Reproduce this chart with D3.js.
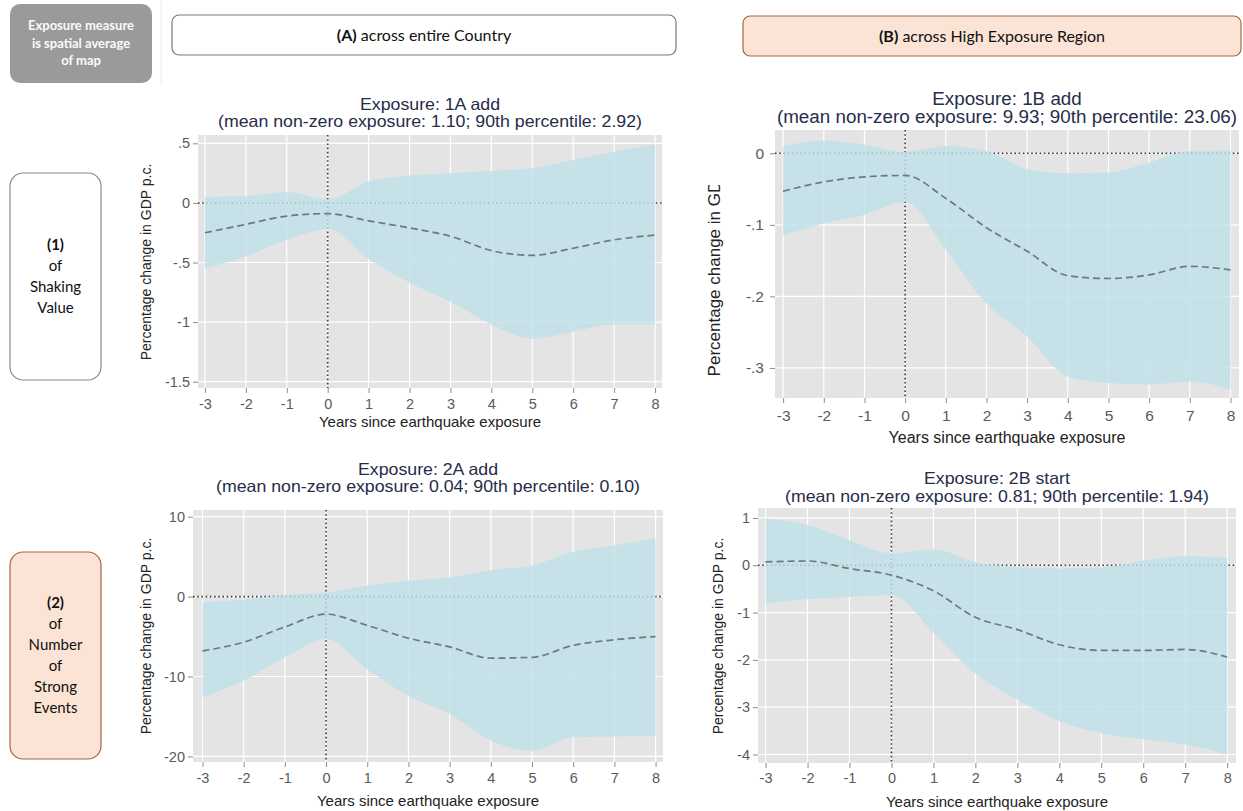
<!DOCTYPE html>
<html>
<head>
<meta charset="utf-8">
<script src="https://cdnjs.cloudflare.com/ajax/libs/d3/7.8.5/d3.min.js"></script>
<style>
  body { margin: 0; background: #fff; }
  svg { display: block; }
</style>
</head>
<body>
<svg id="chart" width="1243" height="811"></svg>
<script>
// event-study years
const years = [-3, -2, -1, 0, 1, 2, 3, 4, 5, 6, 7, 8];

// 1A: shaking value, whole country
const est1A = [-0.25, -0.18, -0.11, -0.09, -0.15, -0.21, -0.28, -0.40, -0.44, -0.38, -0.31, -0.27];
const hi1A = [0.05, 0.06, 0.09, 0.03, 0.18, 0.23, 0.25, 0.27, 0.29, 0.36, 0.43, 0.49];
const lo1A = [-0.55, -0.45, -0.31, -0.22, -0.47, -0.67, -0.83, -1.02, -1.14, -1.08, -1.02, -1.02];

// 1B: shaking value, high exposure region
const est1B = [-0.053, -0.040, -0.033, -0.031, -0.063, -0.104, -0.137, -0.171, -0.175, -0.170, -0.158, -0.163];
const hi1B = [0.010, 0.018, 0.012, 0.002, 0.010, 0.003, -0.022, -0.028, -0.027, -0.013, 0.003, 0.004];
const lo1B = [-0.115, -0.098, -0.086, -0.068, -0.135, -0.21, -0.256, -0.312, -0.321, -0.323, -0.319, -0.330];

// 2A: number of strong events, whole country
const est2A = [-6.8, -5.7, -3.8, -2.2, -3.6, -5.2, -6.3, -7.7, -7.6, -6.1, -5.4, -5.0];
const hi2A = [-0.7, -0.4, 0.2, 0.5, 1.4, 2.0, 2.4, 3.3, 3.9, 5.6, 6.4, 7.3];
const lo2A = [-12.6, -10.5, -7.6, -5.3, -9.1, -12.4, -14.7, -18.0, -19.3, -17.6, -17.5, -17.4];

// 2B: number of strong events, high exposure region
const est2B = [0.07, 0.09, -0.07, -0.21, -0.54, -1.10, -1.36, -1.68, -1.80, -1.80, -1.78, -1.94];
const hi2B = [0.99, 0.85, 0.53, 0.25, 0.34, 0.07, -0.04, -0.07, -0.05, 0.10, 0.19, 0.16];
const lo2B = [-0.81, -0.72, -0.67, -0.63, -1.42, -2.29, -2.84, -3.30, -3.55, -3.68, -3.79, -4.0];

// tick labels
const yTicks1A = [0.5, 0, -0.5, -1, -1.5];
const yLabels1A = [".5", "0", "-.5", "-1", "-1.5"];
const yTicks1B = [0, -0.1, -0.2, -0.3];
const yLabels1B = ["0", "-.1", "-.2", "-.3"];
const yTicks2A = [10, 0, -10, -20];
const yLabels2A = ["10", "0", "-10", "-20"];
const yTicks2B = [1, 0, -1, -2, -3, -4];
const yLabels2B = ["1", "0", "-1", "-2", "-3", "-4"];

const titles1A = ["Exposure: 1A add", "(mean non-zero exposure: 1.10; 90th percentile: 2.92)"];
const titles1B = ["Exposure: 1B add", "(mean non-zero exposure: 9.93; 90th percentile: 23.06)"];
const titles2A = ["Exposure: 2A add", "(mean non-zero exposure: 0.04; 90th percentile: 0.10)"];
const titles2B = ["Exposure: 2B start", "(mean non-zero exposure: 0.81; 90th percentile: 1.94)"];

const xTitle = "Years since earthquake exposure";
const yTitle = "Percentage change in GDP p.c.";

const svg = d3.select("#chart");
const chartFont = "'Liberation Sans', Arial, Helvetica, sans-serif";
const boxFont = "Lato, 'Open Sans', sans-serif";

// the original panels are a bit wider than their fonts, so widen horizontal text
const stretch = (sel, f) => sel.each(function () {
  const len = this.getComputedTextLength();
  d3.select(this).attr("textLength", len * f).attr("lengthAdjust", "spacingAndGlyphs");
});

// ---------- header and row boxes ----------
svg.append("line")
  .attr("x1", 161).attr("x2", 161).attr("y1", 0).attr("y2", 86)
  .attr("stroke", "#ececec");

svg.append("rect")
  .attr("x", 10).attr("y", 4).attr("width", 142).attr("height", 79)
  .attr("rx", 10).attr("fill", "#9a9a9a");

svg.append("text")
  .attr("font-family", boxFont).attr("font-size", "13px").attr("font-weight", "bold")
  .attr("fill", "#fafafa").attr("text-anchor", "middle")
  .selectAll("tspan")
  .data(["Exposure measure", "is spatial average", "of map"])
  .join("tspan")
  .attr("x", 81)
  .attr("y", (d, i) => 30 + i * 17.5)
  .text(d => d);

const headBox = (x, y, w, h, fill, stroke, bold, rest, cx) => {
  svg.append("rect")
    .attr("x", x).attr("y", y).attr("width", w).attr("height", h)
    .attr("rx", 7).attr("fill", fill).attr("stroke", stroke).attr("stroke-width", 1.2);
  const t = svg.append("text")
    .attr("x", cx).attr("y", y + h / 2 + 5.5)
    .attr("text-anchor", "middle")
    .attr("font-family", boxFont).attr("font-size", "16px").attr("fill", "#111");
  t.append("tspan").attr("font-weight", "bold").text(bold);
  t.append("tspan").text(rest);
};
headBox(172, 15, 504, 40, "#fff", "#7a7a7a", "(A)", " across entire Country", 424);
headBox(743, 16, 498, 40, "#fbe4d5", "#a8663f", "(B)", " across High Exposure Region", 992);

const rowBox = (y, h, fill, stroke, lines) => {
  svg.append("rect")
    .attr("x", 10).attr("y", y).attr("width", 91).attr("height", h)
    .attr("rx", 13).attr("fill", fill).attr("stroke", stroke).attr("stroke-width", 1.2);
  const lh = 21;
  const top = y + h / 2 - (lines.length - 1) * lh / 2 + 5;
  svg.append("text")
    .attr("font-family", boxFont).attr("font-size", "15px").attr("fill", "#111")
    .attr("text-anchor", "middle")
    .selectAll("tspan")
    .data(lines)
    .join("tspan")
    .attr("x", 55.5)
    .attr("y", (d, i) => top + i * lh)
    .attr("font-weight", (d, i) => i === 0 ? "bold" : null)
    .text(d => d);
};
rowBox(173, 207, "#fff", "#8a8a8a", ["(1)", "of", "Shaking", "Value"]);
rowBox(552, 207, "#fbe4d5", "#a8663f", ["(2)", "of", "Number", "of", "Strong", "Events"]);

// ---------- panels ----------
const panels = [
  { id: "p1A", est: est1A, lo: lo1A, hi: hi1A, yTicks: yTicks1A, yLabels: yLabels1A, titles: titles1A,
    left: 198, right: 662, top: 135, bottom: 388, xDom: [-3.17, 8.17], yDom: [-1.553, 0.57],
    titleY: [110, 126.5], titleSize: 16.5, tickFont: 14.5, xPad: 6, yPad: 3,
    xTitleY: 427, xTitleSize: 15, yTitleX: 146, yTitleY: 262, yTitleSize: 14 },
  { id: "p1B", est: est1B, lo: lo1B, hi: hi1B, yTicks: yTicks1B, yLabels: yLabels1B, titles: titles1B,
    left: 775, right: 1239, top: 130, bottom: 398, xDom: [-3.20, 8.21], yDom: [-0.342, 0.0325],
    titleY: [104.5, 123], titleSize: 17.5, tickFont: 15.5, xPad: 6.5, yPad: 6,
    xTitleY: 442.5, xTitleSize: 16, yTitleX: 714, yTitleY: 257, yTitleSize: 17, clipTop: 185 },
  { id: "p2A", est: est2A, lo: lo2A, hi: hi2A, yTicks: yTicks2A, yLabels: yLabels2A, titles: titles2A,
    left: 193, right: 663, top: 510, bottom: 762, xDom: [-3.23, 8.18], yDom: [-20.7, 10.84],
    titleY: [475, 491.5], titleSize: 16.5, tickFont: 14.5, xPad: 6, yPad: 3,
    xTitleY: 805.5, xTitleSize: 15, yTitleX: 146, yTitleY: 636, yTitleSize: 14 },
  { id: "p2B", est: est2B, lo: lo2B, hi: hi2B, yTicks: yTicks2B, yLabels: yLabels2B, titles: titles2B,
    left: 758, right: 1236, top: 508, bottom: 763, xDom: [-3.18, 8.21], yDom: [-4.18, 1.21],
    titleY: [484, 501.5], titleSize: 16.5, tickFont: 14.5, xPad: 5, yPad: 3,
    xTitleY: 807, xTitleSize: 15, yTitleX: 718, yTitleY: 636, yTitleSize: 14 }
];

panels.forEach(p => {
  const x = d3.scaleLinear().domain(p.xDom).range([p.left, p.right]);
  const y = d3.scaleLinear().domain(p.yDom).range([p.bottom, p.top]);
  const g = svg.append("g").attr("id", p.id);
  const w = p.right - p.left;
  const h = p.bottom - p.top;

  // plot background
  g.append("rect")
    .attr("x", p.left).attr("y", p.top).attr("width", w).attr("height", h)
    .attr("fill", "#e4e4e4");

  // gridlines
  g.append("g").selectAll("line")
    .data(p.yTicks)
    .join("line")
    .attr("x1", p.left).attr("x2", p.right)
    .attr("y1", d => y(d)).attr("y2", d => y(d))
    .attr("stroke", "#fff").attr("stroke-width", 1.2);
  g.append("g").selectAll("line")
    .data(years)
    .join("line")
    .attr("y1", p.top).attr("y2", p.bottom)
    .attr("x1", d => x(d)).attr("x2", d => x(d))
    .attr("stroke", "#fff").attr("stroke-width", 1.2);

  // reference lines at 0
  g.append("line")
    .attr("x1", p.left).attr("x2", p.right)
    .attr("y1", y(0)).attr("y2", y(0))
    .attr("stroke", "#3a3a3a").attr("stroke-width", 1.6)
    .attr("stroke-dasharray", "1.6 2.6");
  g.append("line")
    .attr("x1", x(0)).attr("x2", x(0))
    .attr("y1", p.top).attr("y2", p.bottom)
    .attr("stroke", "#3a3a3a").attr("stroke-width", 1.6)
    .attr("stroke-dasharray", "1.6 2.6");

  // confidence band
  const rows = years.map((yr, i) => ({ yr, est: p.est[i], lo: p.lo[i], hi: p.hi[i] }));
  const band = d3.area()
    .x(d => x(d.yr))
    .y0(d => y(d.lo))
    .y1(d => y(d.hi))
    .curve(d3.curveMonotoneX);
  g.append("path")
    .datum(rows)
    .attr("d", band)
    .attr("fill", "#bfe0ea")
    .attr("fill-opacity", 0.8);

  // point estimate
  const line = d3.line()
    .x(d => x(d.yr))
    .y(d => y(d.est))
    .curve(d3.curveMonotoneX);
  g.append("path")
    .datum(rows)
    .attr("d", line)
    .attr("fill", "none")
    .attr("stroke", "#6b7b78")
    .attr("stroke-width", 1.7)
    .attr("stroke-dasharray", "7 4");

  // axes
  const yAxis = d3.axisLeft(y)
    .tickValues(p.yTicks)
    .tickFormat((d, i) => p.yLabels[i])
    .tickSize(5)
    .tickPadding(p.yPad);
  const ya = g.append("g").attr("transform", `translate(${p.left},0)`).call(yAxis);

  const xAxis = d3.axisBottom(x)
    .tickValues(years)
    .tickFormat(d => String(d))
    .tickSize(5)
    .tickPadding(p.xPad);
  const xa = g.append("g").attr("transform", `translate(0,${p.bottom})`).call(xAxis);

  [ya, xa].forEach(a => {
    a.select(".domain").remove();
    a.selectAll(".tick line").attr("stroke", "#8c8c8c");
    a.selectAll(".tick text")
      .attr("fill", "#5a5a5a")
      .attr("font-family", chartFont)
      .attr("font-size", p.tickFont + "px");
  });

  // titles
  const tt = g.append("g").selectAll("text")
    .data(p.titles)
    .join("text")
    .attr("x", (p.left + p.right) / 2)
    .attr("y", (d, i) => p.titleY[i])
    .attr("text-anchor", "middle")
    .attr("font-family", chartFont)
    .attr("font-size", p.titleSize + "px")
    .attr("fill", "#262d48")
    .text(d => d);
  stretch(tt, 1.075);

  g.append("text")
    .attr("x", (p.left + p.right) / 2)
    .attr("y", p.xTitleY)
    .attr("text-anchor", "middle")
    .attr("font-family", chartFont)
    .attr("font-size", p.xTitleSize + "px")
    .attr("fill", "#222")
    .text(xTitle);

  const yg = g.append("g");
  yg.append("text")
    .attr("transform", `translate(${p.yTitleX},${p.yTitleY}) rotate(-90)`)
    .attr("text-anchor", "middle")
    .attr("dominant-baseline", "central")
    .attr("font-family", chartFont)
    .attr("font-size", p.yTitleSize + "px")
    .attr("fill", "#222")
    .text(yTitle);

  // 1B's axis title is cut off at the top in the original
  if (p.clipTop) {
    svg.append("clipPath").attr("id", p.id + "-clip")
      .append("rect")
      .attr("x", p.yTitleX - 20).attr("y", p.clipTop)
      .attr("width", 40).attr("height", 400);
    yg.attr("clip-path", `url(#${p.id}-clip)`);
  }
});
</script>
</body>
</html>
